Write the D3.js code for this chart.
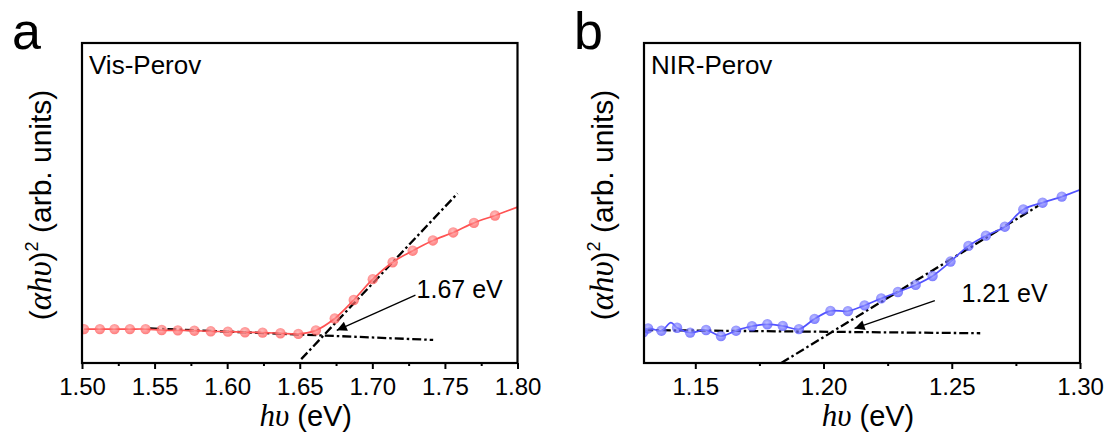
<!DOCTYPE html>
<html><head><meta charset="utf-8">
<script src="https://cdn.jsdelivr.net/npm/d3@7"></script>
<style>body{margin:0;background:#fff}svg{display:block}</style>
</head><body><svg id="c" width="1109" height="434"></svg>
<script>
// ---------- data ----------
const energyA = [1.5014,1.5123,1.5224,1.5330,1.5438,1.5549,1.5660,1.5774,1.5887,1.6005,1.6123,1.6244,1.6367,1.6490,1.6611,1.6741,1.6872,1.7003,1.7140,1.7278,1.7417,1.7557,1.7700,1.7845];
const valueA  = [1.06,1.06,1.06,1.06,1.06,1.03,1.02,1.01,0.99,0.98,0.96,0.95,0.93,0.91,1.02,1.39,1.97,2.62,3.15,3.51,3.83,4.08,4.38,4.61];
const curveEndA = [1.80, 4.87];
const fitSteepA = [[1.6510,0.12],[1.7587,5.30]];
const fitFlatA  = [[1.5468,1.08],[1.7419,0.72]];
const arrowA = [[1.7297,2.12],[1.6755,1.02]];
const gapLabelA = {text:"1.67 eV", x:1.7305, y:2.03};
const xTicksA = [1.50,1.55,1.60,1.65,1.70,1.75,1.80];
const xMinorA = [1.525,1.575,1.625,1.675,1.725,1.775];

const energyB = [1.1297,1.1316,1.1368,1.1429,1.1480,1.1542,1.1600,1.1659,1.1721,1.1781,1.1841,1.1904,1.1965,1.2027,1.2095,1.2160,1.2225,1.2290,1.2359,1.2425,1.2495,1.2565,1.2633,1.2707,1.2779,1.2854,1.2929];
const valueB  = [0.96,1.08,1.01,1.10,0.95,1.03,0.84,1.01,1.15,1.21,1.16,1.06,1.38,1.63,1.62,1.80,2.02,2.22,2.44,2.72,3.17,3.66,3.98,4.26,4.80,5.01,5.20];
const curveBumpB = [1.1405, 1.26];
const curveEndB = [1.30, 5.41];
const fitSteepB = [[1.1835,0.0],[1.2837,4.91]];
const fitFlatB  = [[1.1301,1.03],[1.2611,0.93]];
const arrowB = [[1.2434,1.95],[1.2121,1.08]];
const gapLabelB = {text:"1.21 eV", x:1.2538, y:1.92};
const xTicksB = [1.15,1.20,1.25,1.30];
const xMinorB = [1.175,1.225,1.275];

const yDomain = [0, 10];

// ---------- drawing ----------
const svg = d3.select("#c");
svg.append("rect").attr("width",1109).attr("height",434).attr("fill","#fff");
const defs = svg.append("defs");

function grad(id, light, dark){
  const g = defs.append("radialGradient").attr("id",id).attr("cx","45%").attr("cy","40%").attr("r","60%");
  g.append("stop").attr("offset","0%").attr("stop-color",light);
  g.append("stop").attr("offset","100%").attr("stop-color",dark);
}
grad("gRed","#ffa8a8","#ff4a4a");
grad("gBlue","#a8aaff","#4a4aff");
defs.append("marker").attr("id","arrowHead").attr("viewBox","0 0 10 10").attr("refX",10).attr("refY",5)
  .attr("markerWidth",12).attr("markerHeight",10).attr("markerUnits","userSpaceOnUse").attr("orient","auto")
  .append("path").attr("d","M0,0 L10,5 L0,10 Z").attr("fill","#000");

const SANS = "'Liberation Sans', Arial, sans-serif";
const SERIF = "'Liberation Serif', 'Times New Roman', serif";

function panel(cfg){
  const x = d3.scaleLinear().domain(cfg.xDomain).range([cfg.left, cfg.right]);
  const y = d3.scaleLinear().domain(yDomain).range([cfg.bottom, cfg.top]);
  const g = svg.append("g");
  const clipId = "clip"+cfg.id;
  defs.append("clipPath").attr("id",clipId).append("rect")
    .attr("x",cfg.left).attr("y",cfg.top).attr("width",cfg.right-cfg.left).attr("height",cfg.bottom-cfg.top);
  const plot = g.append("g").attr("clip-path",`url(#${clipId})`);

  // fit lines
  const ln = d3.line().x(d=>x(d[0])).y(d=>y(d[1]));
  [cfg.fitSteep, cfg.fitFlat].forEach(f=>{
    plot.append("path").attr("d",ln(f)).attr("fill","none").attr("stroke","#000")
      .attr("stroke-width",2.3).attr("stroke-dasharray","9,3,2.5,3");
  });

  // curve
  const pts = cfg.energy.map((e,i)=>[e,cfg.value[i]]);
  const curvePts = pts.concat(cfg.extra).sort((a,b)=>a[0]-b[0]);
  plot.append("path").attr("d", d3.line().x(d=>x(d[0])).y(d=>y(d[1])).curve(d3.curveCatmullRom.alpha(0.5))(curvePts))
    .attr("fill","none").attr("stroke",cfg.lineColor).attr("stroke-width",1.7);
  plot.selectAll("circle.m").data(pts).enter().append("circle").attr("class","m")
    .attr("cx",d=>x(d[0])).attr("cy",d=>y(d[1])).attr("r",5.2)
    .attr("fill",`url(#${cfg.grad})`).attr("fill-opacity",0.72);

  // arrow
  g.append("path").attr("d",ln(cfg.arrow)).attr("stroke","#000").attr("stroke-width",1.3)
    .attr("fill","none").attr("marker-end","url(#arrowHead)");
  g.append("text").attr("x",x(cfg.label.x)).attr("y",y(cfg.label.y)).text(cfg.label.text)
    .attr("font-family",SANS).attr("font-size",25).attr("fill","#000");

  // axes
  const ax = g.append("g").attr("transform",`translate(0,${cfg.bottom})`)
    .call(d3.axisBottom(x).tickValues(cfg.ticks).tickFormat(d3.format(".2f")).tickSize(6).tickPadding(9).tickSizeOuter(0));
  ax.select(".domain").remove();
  ax.selectAll("line").attr("stroke","#000").attr("stroke-width",2);
  ax.selectAll("text").attr("font-family",SANS).attr("font-size",24).attr("fill","#000");
  const axm = g.append("g").attr("transform",`translate(0,${cfg.bottom})`)
    .call(d3.axisBottom(x).tickValues(cfg.minor).tickFormat("").tickSize(3).tickSizeOuter(0));
  axm.select(".domain").remove();
  axm.selectAll("line").attr("stroke","#000").attr("stroke-width",2);

  // frame
  g.append("rect").attr("x",cfg.left).attr("y",cfg.top).attr("width",cfg.right-cfg.left).attr("height",cfg.bottom-cfg.top)
    .attr("fill","none").attr("stroke","#000").attr("stroke-width",2.2);

  // sample name
  g.append("text").attr("x",cfg.left+7).attr("y",cfg.top+31).text(cfg.name)
    .attr("font-family",SANS).attr("font-size",26).attr("fill","#000");
  // panel letter
  g.append("text").attr("x",cfg.left-70).attr("y",49).text(cfg.letter)
    .attr("font-family",SANS).attr("font-size",52).attr("fill","#000");

  // x title
  const xt = g.append("text").attr("x",(cfg.left+cfg.right)/2+6).attr("y",426).attr("text-anchor","middle")
    .attr("font-family",SANS).attr("font-size",29).attr("fill","#000");
  xt.append("tspan").attr("font-family",SERIF).attr("font-style","italic").attr("font-size",31).text("hυ");
  xt.append("tspan").text(" (eV)");

  // y title
  const yt = g.append("text").attr("transform",`translate(${cfg.left-31},${(cfg.top+cfg.bottom)/2+2}) rotate(-90)`)
    .attr("text-anchor","middle").attr("font-family",SANS).attr("font-size",30).attr("fill","#000");
  yt.append("tspan").text("(");
  yt.append("tspan").attr("font-family",SERIF).attr("font-style","italic").attr("font-size",33).text("αhυ");
  yt.append("tspan").text(")");
  yt.append("tspan").attr("font-size",18).attr("dy",-13).text("2");
  yt.append("tspan").attr("dy",13).text(" (arb. units)");
}

panel({id:"A", left:82, right:517.5, top:43, bottom:363, xDomain:[1.50,1.80],
  energy:energyA, value:valueA, extra:[curveEndA], fitSteep:fitSteepA, fitFlat:fitFlatA,
  arrow:arrowA, label:gapLabelA, ticks:xTicksA, minor:xMinorA, grad:"gRed", lineColor:"#ff5252",
  name:"Vis-Perov", letter:"a"});
panel({id:"B", left:644, right:1080, top:43, bottom:363, xDomain:[1.13,1.30],
  energy:energyB, value:valueB, extra:[curveBumpB, curveEndB], fitSteep:fitSteepB, fitFlat:fitFlatB,
  arrow:arrowB, label:gapLabelB, ticks:xTicksB, minor:xMinorB, grad:"gBlue", lineColor:"#5252ff",
  name:"NIR-Perov", letter:"b"});
</script></body></html>
